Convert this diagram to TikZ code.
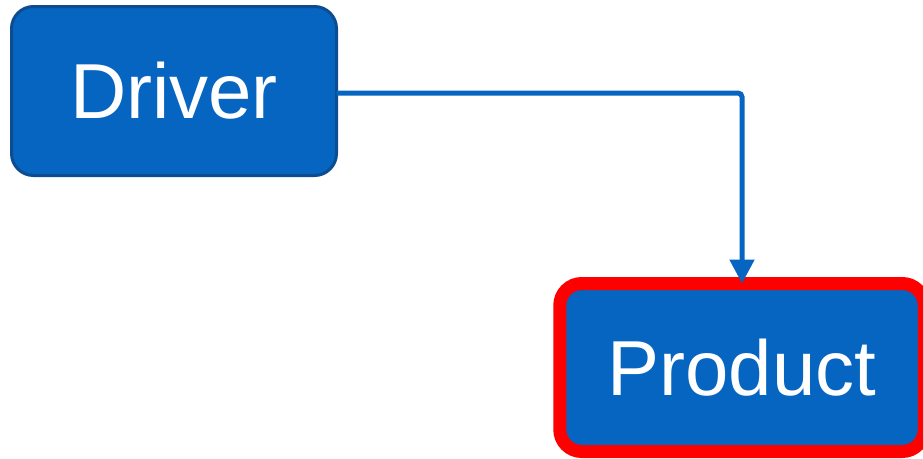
\documentclass[tikz,border=0pt]{standalone}
\usepackage{fontspec}
\setmainfont{Liberation Sans}
\usetikzlibrary{arrows.meta}
\definecolor{boxblue}{RGB}{5,101,192}
\definecolor{boxedge}{RGB}{14,76,146}
\definecolor{hired}{RGB}{255,0,0}
\tikzset{
  box/.style={rectangle, rounded corners=22pt, fill=boxblue, text=white,
    inner sep=0pt, outer sep=0pt, font=\fontsize{78}{90}\selectfont},
  link/.style={draw=boxblue, line width=5pt, rounded corners=4pt,
    -{Triangle[width=24pt,length=24pt]}}
}
\begin{document}
\begin{tikzpicture}[x=1pt,y=-1pt]
\useasboundingbox (0,0) rectangle (923,458);
\node[box, draw=boxedge, line width=3pt, minimum width=325pt, minimum height=169pt] (driver) at (174,91) {Driver};
\node[box, draw=hired, line width=13pt, minimum width=364.5pt, minimum height=168pt] (product) at (742,367.5) {Product};
\draw[link] ([yshift=-2pt]driver.east) -| (product.north);
\end{tikzpicture}
\end{document}
